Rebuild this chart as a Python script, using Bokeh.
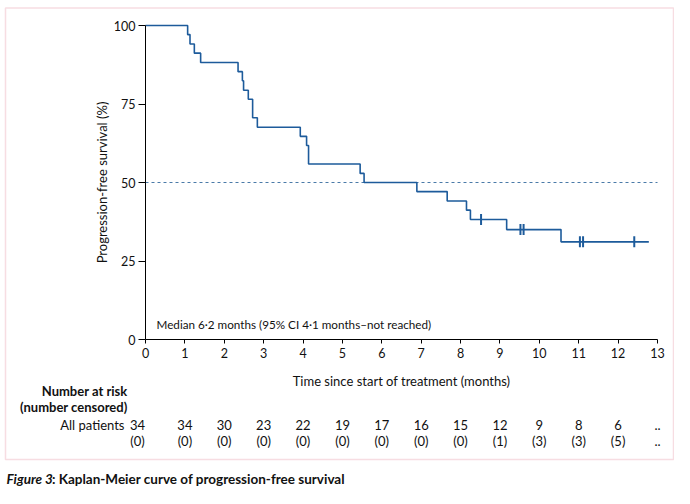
import bisect
import math
from bokeh.plotting import figure
from bokeh.models import FixedTicker, Range1d, BoxAnnotation
from bokeh.core.properties import value
from bokeh.embed import file_html
from bokeh.resources import INLINE

# ---- data ----
event_times = [0, 1.07, 1.13, 1.24, 1.40, 2.35, 2.46, 2.49, 2.61, 2.72, 2.84, 3.93,
               4.09, 4.14, 5.45, 5.55, 6.89, 7.66, 8.15, 8.25, 9.17, 10.55, 12.78]
survival = [100, 97.1, 94.1, 91.2, 88.2, 85.3, 82.4, 79.4, 76.5, 70.6, 67.6, 64.7,
            61.8, 55.9, 52.9, 50.0, 47.1, 44.1, 41.2, 38.2, 35.0, 31.1, 31.1]
censor_times = [8.52, 9.52, 9.60, 11.03, 11.11, 12.41]
median_level = 50

risk_months = [0, 1, 2, 3, 4, 5, 6, 7, 8, 9, 10, 11, 12, 13]
at_risk = ["34", "34", "30", "23", "22", "19", "17", "16", "15", "12", "9", "8", "6", ".."]
censored = ["(0)", "(0)", "(0)", "(0)", "(0)", "(0)", "(0)", "(0)", "(0)", "(1)", "(3)",
            "(3)", "(5)", ".."]

x_ticks = list(range(0, 14))
y_ticks = [0, 25, 50, 75, 100]

x_title = "Time since start of treatment (months)"
y_title = "Progression-free survival (%)"
median_note = "Median 6·2 months (95% CI 4·1 months–not reached)"
caption_lead = "Figure 3"
caption_rest = ": Kaplan-Meier curve of progression-free survival"

# ---- styling / layout ----
FONT = "Lato"
BLUE = "#1d5b9b"
PINK = "#e38ea0"
INK = "#111111"
W, H = 674, 488
PX_PER_MONTH = 512 / 13      # 0..13 months spans 512 px
PX_PER_PCT = 314 / 100       # 0..100 % spans 314 px
X0_PX, Y0_PX = 145, 339      # canvas position of the origin


def mx(px):  # canvas x pixel -> months (layout helper for decorations)
    return (px - X0_PX) / PX_PER_MONTH


def my(py):  # canvas y pixel -> percent
    return (Y0_PX - py) / PX_PER_PCT


p = figure(width=W, height=H, output_backend="svg", toolbar_location=None,
           x_range=Range1d(mx(0), mx(W)), y_range=Range1d(my(H), my(0)),
           min_border=0)
p.outline_line_color = None
p.grid.visible = False
p.background_fill_color = "white"
p.border_fill_color = "white"

for ax in (p.xaxis[0], p.yaxis[0]):
    ax.fixed_location = 0
    ax.axis_line_color = "black"
    ax.axis_line_width = 1
    ax.major_tick_line_color = "black"
    ax.minor_tick_line_color = None
    ax.major_tick_in = 0
    ax.major_label_text_font = FONT
    ax.major_label_text_font_size = "12.5px"
    ax.major_label_text_color = INK

p.xaxis.ticker = FixedTicker(ticks=x_ticks)
p.yaxis.ticker = FixedTicker(ticks=y_ticks)
p.xaxis.bounds = (x_ticks[0], x_ticks[-1])
p.yaxis.bounds = (y_ticks[0], y_ticks[-1])
p.xaxis.major_tick_out = 4
p.yaxis.major_tick_out = 7
p.xaxis.major_label_standoff = 4
p.yaxis.major_label_standoff = 3

# pink panel frame
p.add_layout(BoxAnnotation(left=mx(5), right=mx(W - 1), top=my(7.5), bottom=my(459),
                           fill_alpha=0, line_color=PINK, line_width=1.5))

# median dashed line
p.segment(x0=[x_ticks[0]], x1=[x_ticks[-1]], y0=[median_level], y1=[median_level],
          line_color="#4a7aa8", line_dash="3 3", line_width=1)

# KM curve
p.step(event_times, survival, mode="after", line_color=BLUE, line_width=1.6)


def surv_at(t):
    i = bisect.bisect_right(event_times, t) - 1
    return survival[i]


censor_y = [surv_at(t) for t in censor_times]
p.scatter(censor_times, censor_y, marker="dash", angle=math.pi / 2, size=11,
          line_color=BLUE, line_width=2)

txt = dict(text_font=value(FONT), text_color=INK, text_baseline="middle")

# axis titles
p.text(x=[(x_ticks[0] + x_ticks[-1]) / 2], y=[my(380)], text=[x_title],
       text_align="center", text_font_size="13px", **txt)
p.text(x=[mx(101)], y=[(y_ticks[0] + y_ticks[-1]) / 2], text=[y_title], angle=math.pi / 2,
       text_align="center", text_font_size="13px", **txt)

# median annotation
p.text(x=[mx(156)], y=[my(323.5)], text=[median_note], text_align="left",
       text_font_size="11.7px", **txt)

# risk table
n = len(risk_months)
offsets = [-8 if m == 0 else 0 for m in risk_months]
p.text(x=risk_months, y=[my(424)] * n, text=at_risk, x_offset=offsets,
       text_align="center", text_font_size="13px", **txt)
p.text(x=risk_months, y=[my(440)] * n, text=censored, x_offset=offsets,
       text_align="center", text_font_size="13px", **txt)
p.text(x=[mx(127)] * 2, y=[my(390), my(406.5)], text=["Number at risk", "(number censored)"],
       text_align="right", text_font_size="13px", text_font_style="bold", **txt)
p.text(x=[mx(124)], y=[my(424)], text=["All patients"], text_align="right",
       text_font_size="13px", **txt)

# caption
p.text(x=[mx(6)], y=[my(478)], text=[caption_lead], text_align="left",
       text_font_size="13.5px", text_font_style="bold italic", **txt)
p.text(x=[mx(51.5)], y=[my(478)], text=[caption_rest], text_align="left",
       text_font_size="13.5px", text_font_style="bold", **txt)

open("out.html", "w").write(file_html(p, INLINE))
